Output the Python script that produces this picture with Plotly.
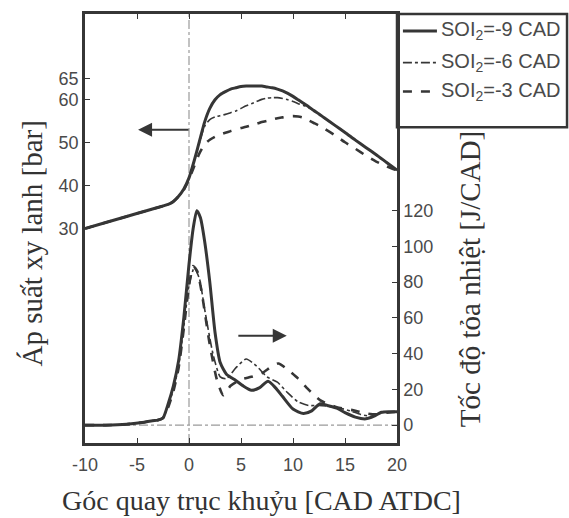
import plotly.graph_objects as go

# Crank angle grids [CAD ATDC]
ca_p = [-10, -8, -6, -4, -3, -2, -1.5, -1, -0.5, 0, 0.5, 1, 1.5, 2, 2.5, 3, 3.5, 4, 4.5, 5, 5.5,
        6, 6.5, 7, 7.5, 8, 8.5, 9, 9.5, 10, 10.5, 11, 11.5, 12, 12.5, 13, 14, 15, 16, 17, 18, 19, 20]

# Cylinder pressure [bar]
p_soi9 = [30, 31.4, 32.8, 34.2, 34.9, 35.6, 36.3, 37.5, 39.2, 41.8, 45.8, 50.3, 54.8, 58.0, 60.0, 61.2, 61.9, 62.5, 62.8, 63.1, 63.2,
          63.2, 63.2, 63.2, 63.0, 62.8, 62.5, 62.1, 61.5, 60.8, 60.0, 59.2, 58.4, 57.5, 56.7, 55.8, 54.1, 52.4, 50.6, 48.9, 47.2, 45.4, 43.6]
p_soi6 = [30, 31.4, 32.8, 34.2, 34.9, 35.6, 36.3, 37.5, 39.2, 41.8, 45.8, 50.0, 53.8, 55.4, 56.0, 56.3, 56.6, 57.0, 57.4, 58.0, 58.6,
          59.1, 59.6, 60.1, 60.4, 60.5, 60.5, 60.3, 60.0, 59.6, 59.1, 58.7, 58.2, 57.5, 56.7, 55.8, 54.1, 52.4, 50.6, 48.9, 47.2, 45.4, 43.6]
p_soi3 = [30, 31.4, 32.8, 34.2, 34.9, 35.6, 36.3, 37.5, 39.0, 41.5, 44.5, 47.5, 49.6, 50.7, 51.4, 51.9, 52.3, 52.7, 53.1, 53.4, 53.7,
          54.1, 54.4, 54.8, 55.1, 55.4, 55.7, 55.9, 56.1, 56.2, 56.1, 55.8, 55.2, 54.6, 54.0, 53.3, 51.8, 50.1, 48.6, 47.0, 45.6, 44.5, 43.5]

# Heat release rate [J/CAD]
ca_h9 = [-10, -8, -6, -4.5, -3.5, -3, -2.5, -2, -1.5, -1, -0.5, 0, 0.4, 0.75, 1.1, 1.5, 2, 2.5, 3, 3.6,
         4.5, 5.2, 6, 6.8, 7.6, 8.3, 9, 10, 11, 11.8, 12.6, 13.3, 14.2, 15, 16, 17, 17.8, 18.5, 19.3, 20]
h_soi9 = [0, 0, 0.5, 1.5, 2.5, 2.8, 4, 12, 22, 36, 60, 90, 110, 120, 116, 103, 80, 52, 35, 28.5,
          25, 22, 19.5, 21, 24.5, 21, 16, 9, 6.5, 8, 12, 11, 9.5, 7, 4.5, 3.5, 5, 7.2, 7.5, 7.5]

ca_h6 = [-10, -8, -6, -4.5, -3.5, -3, -2.5, -2, -1.5, -1, -0.5, 0, 0.5, 1, 1.5, 2.3, 3, 3.6,
         4.5, 5.5, 6.5, 7.5, 8.5, 9.5, 10.5, 11.5, 12.5, 13.5, 14.5, 15.5, 16.5, 17.5, 18.5, 20]
h_soi6 = [0, 0, 0.5, 1.5, 2.5, 2.8, 4, 11, 20, 33, 55, 78, 88, 82, 65, 40, 27, 26,
          32, 37, 33, 27, 24, 18, 13, 11, 11, 10.5, 9.5, 8, 6, 5, 7, 7.5]

ca_h3 = [-10, -8, -6, -4.5, -3.5, -3, -2.5, -2, -1.5, -1, -0.5, 0, 0.4, 0.8, 1.2, 2, 2.7, 3.3,
         4, 5, 6, 7, 8, 8.6, 9.5, 10.5, 11.3, 12.6, 14.2, 15.8, 17.1, 18, 19, 20]
h_soi3 = [0, 0, 0.5, 1.5, 2.5, 2.8, 4, 10, 19, 32, 54, 78, 89, 86, 75, 45, 25, 16.7,
          22, 25.5, 27, 29, 33, 34.5, 31, 26, 21, 14, 10, 8.3, 6.5, 6, 7, 7.5]

series_names = ["SOI<sub>2</sub>=-9 CAD", "SOI<sub>2</sub>=-6 CAD", "SOI<sub>2</sub>=-3 CAD"]

x_ticks = [-10, -5, 0, 5, 10, 15, 20]
x_ticktext = ["-10", "-5", "0", "5", "10", "15", "20"]
p_ticks = [30, 40, 50, 60, 65]
h_ticks = [0, 20, 40, 60, 80, 100, 120]

ink = "#363636"
styles = [dict(color=ink, width=3.0, dash="solid"),
          dict(color=ink, width=1.6, dash="dashdot"),
          dict(color=ink, width=2.6, dash="dash")]

fig = go.Figure()

pressures = [p_soi9, p_soi6, p_soi3]
hrr = [(ca_h9, h_soi9), (ca_h6, h_soi6), (ca_h3, h_soi3)]

for i, name in enumerate(series_names):
    fig.add_trace(go.Scatter(x=ca_p, y=pressures[i], mode="lines", name=name,
                             line=dict(shape="spline", smoothing=0.6, **styles[i]), yaxis="y"))
for i, name in enumerate(series_names):
    fig.add_trace(go.Scatter(x=hrr[i][0], y=hrr[i][1], mode="lines", name=name,
                             line=dict(shape="spline", smoothing=0.6, **styles[i]), yaxis="y2"))

# TDC marker and zero line of heat release
fig.add_shape(type="line", xref="x", yref="paper", x0=0, x1=0, y0=0, y1=1,
              line=dict(color="#9a9a9a", width=1.2, dash="dashdot"), layer="below")
fig.add_shape(type="line", xref="paper", yref="y2", x0=0, x1=1, y0=0, y1=0,
              line=dict(color="#9a9a9a", width=1.2, dash="dashdot"), layer="below")

# Legend box attached to the right edge of the plot
fig.add_shape(type="rect", xref="paper", yref="paper", x0=1.0, x1=1.545, y0=0.736, y1=1.0,
              line=dict(color=ink, width=2.5), fillcolor="rgba(0,0,0,0)")
legend_rows = [0.9606, 0.8866, 0.8194]
for name, style, yrow in zip(series_names, styles, legend_rows):
    fig.add_shape(type="line", xref="paper", yref="paper", x0=1.019, x1=1.128, y0=yrow, y1=yrow,
                  line=style)
    fig.add_annotation(text=name, xref="paper", yref="paper", x=1.135, y=yrow,
                       xanchor="left", yanchor="middle", showarrow=False,
                       font=dict(family="Liberation Sans, Arial, sans-serif", size=20, color="#4a4a4a"))

# Arrows pointing to each axis
fig.add_annotation(x=-4.9, y=53, xref="x", yref="y", ax=0.1, ay=53, axref="x", ayref="y",
                   text="", showarrow=True, arrowhead=2, arrowsize=1.4, arrowwidth=2, arrowcolor=ink)
fig.add_annotation(x=9.4, y=50, xref="x", yref="y2", ax=4.6, ay=50, axref="x", ayref="y2",
                   text="", showarrow=True, arrowhead=2, arrowsize=1.4, arrowwidth=2, arrowcolor=ink)

tick_font = dict(family="Liberation Sans, Arial, sans-serif", size=18, color="#4a4a4a")
title_font = dict(family="Liberation Serif, Times New Roman, serif", size=28, color="#333333")

# Axis titles
fig.add_annotation(text="Góc quay trục khuỷu [CAD ATDC]", xref="paper", yref="paper",
                   x=0.567, y=-0.135, xanchor="center", yanchor="middle", showarrow=False, font=title_font)
fig.add_annotation(text="Áp suất xy lanh [bar]", xref="paper", yref="paper", textangle=-90,
                   x=-0.173, y=0.465, xanchor="center", yanchor="middle", showarrow=False,
                   font=dict(title_font, size=29))
fig.add_annotation(text="Tốc độ tỏa nhiệt [J/CAD]", xref="paper", yref="paper", textangle=-90,
                   x=1.234, y=0.382, xanchor="center", yanchor="middle", showarrow=False,
                   font=dict(title_font, size=29))

fig.update_layout(
    width=569, height=518,
    margin=dict(l=85, r=172, t=11, b=75),
    paper_bgcolor="white", plot_bgcolor="white",
    showlegend=False,
    xaxis=dict(range=[-10, 20], tickvals=x_ticks, ticktext=x_ticktext,
               ticks="inside", ticklen=5, tickcolor=ink, showline=True, linecolor=ink, linewidth=2.5,
               mirror="ticks", showgrid=False, zeroline=False, tickfont=tick_font, ticklabelstandoff=4),
    yaxis=dict(range=[-20, 80], tickvals=p_ticks,
               ticks="inside", ticklen=5, tickcolor=ink, showline=True, linecolor=ink, linewidth=2.5,
               showgrid=False, zeroline=False, tickfont=tick_font),
    yaxis2=dict(range=[-10, 230], tickvals=h_ticks, overlaying="y", side="right",
                ticks="inside", ticklen=5, tickcolor=ink, showline=True, linecolor=ink, linewidth=2.5,
                showgrid=False, zeroline=False, tickfont=tick_font),
)

fig.write_html("out.html")
